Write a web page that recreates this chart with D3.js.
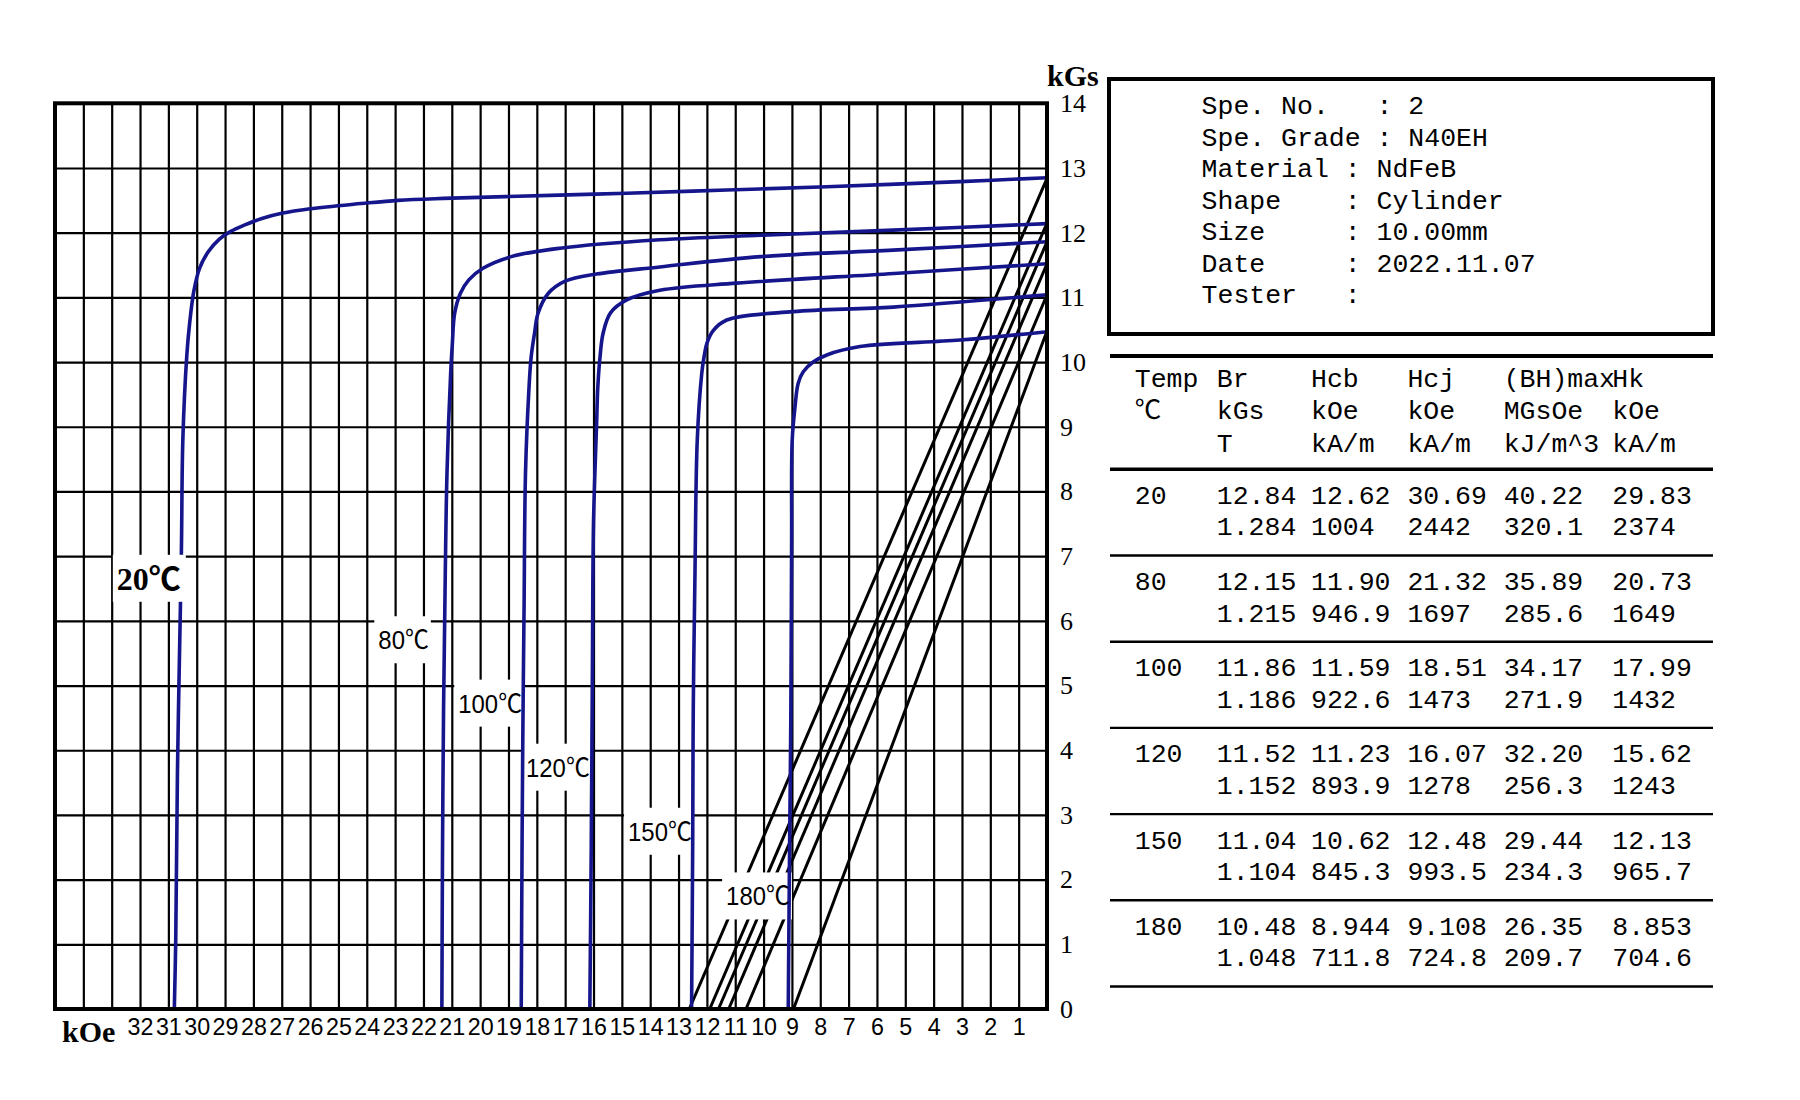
<!DOCTYPE html>
<html><head><meta charset="utf-8">
<script src="https://cdn.jsdelivr.net/npm/d3@7"></script>
<style>body{margin:0;background:#fff}svg{display:block}</style>
</head><body><svg id="c" width="1800" height="1100"></svg>
<script>
// ---------------- data ----------------
const temps = [20, 80, 100, 120, 150, 180];
const brKGs   = ["12.84","12.15","11.86","11.52","11.04","10.48"];
const brT     = ["1.284","1.215","1.186","1.152","1.104","1.048"];
const hcbKOe  = ["12.62","11.90","11.59","11.23","10.62","8.944"];
const hcbKAm  = ["1004","946.9","922.6","893.9","845.3","711.8"];
const hcjKOe  = ["30.69","21.32","18.51","16.07","12.48","9.108"];
const hcjKAm  = ["2442","1697","1473","1278","993.5","724.8"];
const bhMGOe  = ["40.22","35.89","34.17","32.20","29.44","26.35"];
const bhKJ    = ["320.1","285.6","271.9","256.3","234.3","209.7"];
const hkKOe   = ["29.83","20.73","17.99","15.62","12.13","8.853"];
const hkKAm   = ["2374","1649","1432","1243","965.7","704.6"];

// intrinsic (J-H) curves: [H kOe, B kGs]
const curve20 = [[0,12.85],[3.07,12.79],[7.77,12.71],[11.3,12.66],[14.83,12.61],[17.2,12.58],[21.3,12.53],[22.9,12.50],[24.2,12.45],[26,12.37],[27,12.30],[27.7,12.22],[28.3,12.12],[28.8,12.02],[29.2,11.9],[29.6,11.7],[29.9,11.45],[30.1,11.1],[30.25,10.6],[30.35,10.1],[30.49,8.79],[30.54,7.09],[30.62,5.19],[30.68,3.65],[30.74,1.07],[30.79,0]];
const curve80 = [[0,12.14],[5.43,12.04],[10.1,11.96],[13.66,11.89],[17.18,11.76],[18.9,11.63],[19.9,11.45],[20.4,11.27],[20.7,11.06],[20.9,10.75],[20.98,10.29],[21.04,9.83],[21.17,8.28],[21.23,6.74],[21.29,4.67],[21.33,2.26],[21.35,0]];
const curve100 = [[0,11.86],[5.43,11.73],[10.1,11.63],[13.66,11.47],[15.9,11.36],[17.0,11.25],[17.6,11.06],[17.96,10.75],[18.08,10.45],[18.2,10.08],[18.28,9.57],[18.4,8.28],[18.45,6.21],[18.49,4.42],[18.52,2.61],[18.55,0]];
const curve120 = [[0,11.52],[5.4,11.37],[10.95,11.22],[13.66,11.11],[14.83,10.96],[15.4,10.76],[15.66,10.45],[15.77,10.08],[15.85,9.6],[15.89,9.06],[16.0,7.51],[16.04,5.19],[16.08,2.5],[16.13,0]];
const curve150 = [[0,11.04],[5.43,10.85],[8.96,10.78],[11.3,10.65],[11.77,10.49],[12.0,10.29],[12.1,10.08],[12.18,9.83],[12.34,8.79],[12.42,6.74],[12.48,4.67],[12.5,2.6],[12.54,0]];
const curve180 = [[0,10.47],[3.07,10.34],[6.6,10.24],[7.77,10.11],[8.25,10.0],[8.6,9.85],[8.78,9.67],[8.89,9.31],[8.99,8.79],[9.01,7.25],[9.04,4.42],[9.08,2.6],[9.13,0]];
const curves = [curve20, curve80, curve100, curve120, curve150, curve180];

const labelTexts = ["20℃","80℃","100℃","120℃","150℃","180℃"];
const labelB = [6.65, 5.70, 4.72, 3.73, 2.74, 1.74];      // kGs, centre of label
const labelRightH = [30.56, 21.81, 18.52, 16.13, 12.53, 9.07]; // kOe, right end of label

const xTicks = d3.range(1, 33);
const yTicks = d3.range(0, 15);

const infoLabels = ["Spe. No.","Spe. Grade","Material","Shape","Size","Date","Tester"];
const infoValues = ["2","N40EH","NdFeB","Cylinder","10.00mm","2022.11.07",""];
const infoColon  = [11, 11, 9, 9, 9, 9, 9];

const head1 = ["Temp","Br","Hcb","Hcj","(BH)max","Hk"];
const head2 = ["℃","kGs","kOe","kOe","MGsOe","kOe"];
const head3 = ["","T","kA/m","kA/m","kJ/m^3","kA/m"];

// ---------------- drawing ----------------
const BLUE = "#16168c";
const svg = d3.select("#c");
svg.append("rect").attr("width",1800).attr("height",1100).attr("fill","#fff");

const x = d3.scaleLinear().domain([35, 0]).range([55, 1047]);
const y = d3.scaleLinear().domain([0, 14]).range([1009, 103.3]);
const plotW = x(0) - x(35), plotH = y(0) - y(14);

// grid
svg.append("g").attr("transform", `translate(0,${y(0)})`)
  .call(d3.axisBottom(x).tickValues(d3.range(1, 35)).tickSize(-plotH).tickFormat(""))
  .call(g => g.select(".domain").remove())
  .selectAll("line").attr("stroke", "#000").attr("stroke-width", 2.2);
svg.append("g").attr("transform", `translate(${x(35)},0)`)
  .call(d3.axisLeft(y).tickValues(d3.range(1, 14)).tickSize(-plotW).tickFormat(""))
  .call(g => g.select(".domain").remove())
  .selectAll("line").attr("stroke", "#000").attr("stroke-width", 2.2);

const line = d3.line().x(d => x(d[0])).y(d => y(d[1]));

// normal (B-H) curves: straight lines Br -> Hcb
const normalLines = temps.map((t, i) => [[0, +brKGs[i]], [+hcbKOe[i], 0]]);
svg.append("g").selectAll("path").data(normalLines).join("path")
  .attr("d", line).attr("fill", "none").attr("stroke", "#000").attr("stroke-width", 3);

// label boxes + labels
const boxLayerBelow = svg.append("g");
const curveLayer = svg.append("g");
const boxLayerAbove = svg.append("g");
const textLayer = svg.append("g");

curveLayer.selectAll("path").data(curves).join("path")
  .attr("d", line.curve(d3.curveCatmullRom.alpha(0.5)))
  .attr("fill", "none").attr("stroke", BLUE).attr("stroke-width", 3.6);

labelTexts.forEach((txt, i) => {
  const bold = i === 0;
  const sx = bold ? 1 : 0.92;
  const tx = x(labelRightH[i]);
  const t = textLayer.append("text")
    .attr("transform", `translate(${tx},${y(labelB[i]) + (bold ? 11 : 9)}) scale(${sx},1)`)
    .attr("text-anchor", "end")
    .attr("font-family", bold ? "'Liberation Serif','Noto Sans CJK SC'" : "'Liberation Sans','Noto Sans CJK SC'")
    .attr("font-weight", bold ? "bold" : "normal")
    .attr("font-size", bold ? 32 : 26)
    .attr("fill", "#000")
    .text(txt);
  const bb = t.node().getBBox();
  const left = tx + bb.x * sx, right = tx + (bb.x + bb.width) * sx;
  const cy = y(labelB[i]);
  const layer = bold ? boxLayerAbove : boxLayerBelow;
  layer.append("rect")
    .attr("x", left - 4).attr("y", cy - 24)
    .attr("width", (right - left) + (bold ? 9 : 6)).attr("height", 47)
    .attr("fill", "#fff");
});

// frame
svg.append("rect").attr("x", x(35)).attr("y", y(14)).attr("width", plotW).attr("height", plotH)
  .attr("fill", "none").attr("stroke", "#000").attr("stroke-width", 4);

// x tick labels
const gx = svg.append("g").attr("transform", `translate(0,${y(0)})`)
  .call(d3.axisBottom(x).tickValues(xTicks).tickSize(0).tickPadding(0));
gx.select(".domain").remove();
gx.selectAll("text").attr("y", 26).attr("dy", null).attr("transform", "scale(0.97,1)")
  .attr("font-family", "'Liberation Sans'").attr("font-size", 24).attr("fill", "#000");

// y tick labels
const gy = svg.append("g").attr("transform", `translate(${x(0) + 13},0)`)
  .call(d3.axisRight(y).tickValues(yTicks).tickSize(0).tickPadding(0));
gy.select(".domain").remove();
gy.selectAll("text").attr("font-family", "'Liberation Serif'").attr("font-size", 26).attr("fill", "#000");

// axis units
svg.append("text").attr("x", x(0)).attr("y", 86).text("kGs")
  .attr("font-family", "'Liberation Serif'").attr("font-weight", "bold").attr("font-size", 30);
svg.append("text").attr("x", 62).attr("y", 1042).text("kOe")
  .attr("font-family", "'Liberation Serif'").attr("font-weight", "bold").attr("font-size", 30);

// ---------------- info box & table ----------------
function mono(g, px, py, str) {
  g.append("text").attr("x", px).attr("y", py)
    .attr("font-family", "'Liberation Mono','Noto Sans CJK SC'").attr("font-size", 26.5)
    .attr("xml:space", "preserve").style("white-space", "pre").attr("fill", "#000")
    .text(str);
}
const info = svg.append("g");
info.append("rect").attr("x", 1109).attr("y", 79).attr("width", 604).attr("height", 255)
  .attr("fill", "none").attr("stroke", "#000").attr("stroke-width", 4);
infoLabels.forEach((lab, i) => {
  const s = lab.padEnd(infoColon[i], " ") + ": " + infoValues[i];
  mono(info, 1201.6, 114 + i * 31.5, s);
});

const tab = svg.append("g");
const colX = [1134.8, 1216.8, 1311, 1407.4, 1503.7, 1612.3];
const tL = 1110, tR = 1713;
tab.append("line").attr("x1", tL).attr("x2", tR).attr("y1", 356).attr("y2", 356).attr("stroke", "#000").attr("stroke-width", 4);
tab.append("line").attr("x1", tL).attr("x2", tR).attr("y1", 469.3).attr("y2", 469.3).attr("stroke", "#000").attr("stroke-width", 3.5);
[head1, head2, head3].forEach((row, r) => {
  row.forEach((s, c) => { if (s) mono(tab, colX[c], 387 + r * 32.3, s); });
});
const rowH = 86.2;
temps.forEach((t, i) => {
  const top = 469.3 + i * rowH;
  const b1 = top + 34.5, b2 = top + 66;
  mono(tab, colX[0], b1, String(t));
  [brKGs, hcbKOe, hcjKOe, bhMGOe, hkKOe].forEach((arr, c) => mono(tab, colX[c + 1], b1, arr[i]));
  [brT, hcbKAm, hcjKAm, bhKJ, hkKAm].forEach((arr, c) => mono(tab, colX[c + 1], b2, arr[i]));
  tab.append("line").attr("x1", tL).attr("x2", tR).attr("y1", top + rowH).attr("y2", top + rowH)
    .attr("stroke", "#000").attr("stroke-width", 2.4);
});
</script></body></html>
